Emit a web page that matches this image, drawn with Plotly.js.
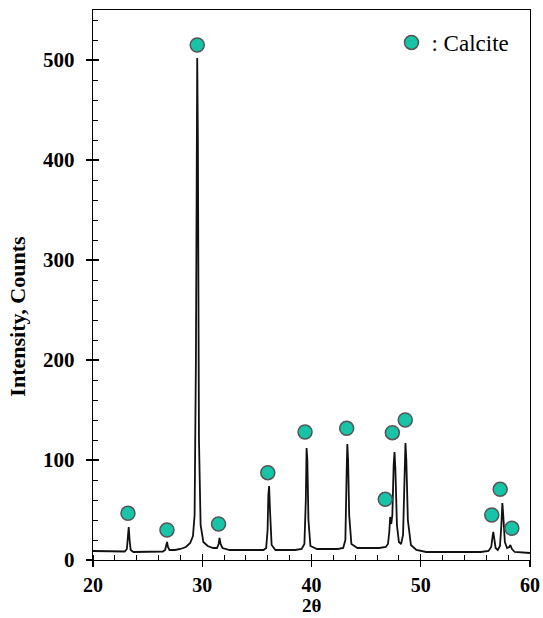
<!DOCTYPE html>
<html>
<head>
<meta charset="utf-8">
<script src="https://cdn.plot.ly/plotly-3.0.1.min.js"></script>
<style>html,body{margin:0;padding:0;background:#fff;}#chart{width:543px;height:618px;}</style>
</head>
<body>
<div id="chart"></div>
<script>
// XRD pattern (2θ, counts)
var twoTheta = [20, 21, 22, 22.9, 23.1, 23.2, 23.27, 23.35, 23.45, 23.7, 24.5, 25.5, 26.4, 26.6, 26.72, 26.78, 26.86, 27.0, 27.5, 28.0, 28.5, 28.9, 29.15, 29.3, 29.42, 29.5, 29.54, 29.6, 29.7, 29.85, 30.1, 30.5, 31.0, 31.35, 31.5, 31.58, 31.68, 31.85, 32.5, 33.5, 34.5, 35.6, 35.85, 35.98, 36.05, 36.12, 36.2, 36.35, 36.7, 37.5, 38.5, 39.1, 39.35, 39.48, 39.55, 39.62, 39.72, 39.9, 40.5, 41.5, 42.4, 42.9, 43.1, 43.22, 43.28, 43.35, 43.45, 43.65, 44.2, 45.2, 46.2, 46.8, 47.0, 47.12, 47.2, 47.3, 47.4, 47.52, 47.6, 47.68, 47.82, 48.0, 48.2, 48.38, 48.52, 48.6, 48.68, 48.82, 49.1, 49.6, 50.5, 52, 54, 55.5, 56.2, 56.45, 56.58, 56.64, 56.72, 56.85, 57.05, 57.25, 57.38, 57.47, 57.55, 57.7, 57.9, 58.1, 58.2, 58.35, 58.6, 59.2, 60];
var counts = [9, 9, 8.5, 8.5, 11, 22, 33, 20, 10, 8, 8, 8, 8.5, 10, 15, 18, 13, 10, 10, 11, 13, 17, 24, 45, 200, 480, 502, 420, 120, 35, 18, 14, 12, 12, 16, 22, 16, 12, 10, 10, 10, 10, 12, 30, 65, 74, 50, 15, 10, 10, 10, 11, 16, 60, 112, 100, 40, 14, 11, 11, 11, 12, 20, 90, 116, 100, 45, 16, 12, 12, 12, 13, 16, 28, 43, 36, 45, 95, 108, 90, 35, 18, 16, 25, 90, 117, 100, 40, 15, 10, 8, 8, 8, 8, 9, 13, 24, 28, 22, 12, 10, 14, 35, 57, 45, 18, 12, 13, 15, 11, 8, 7.5, 7];

// Calcite markers
var calciteTheta = [23.2, 26.77, 29.54, 31.49, 36.0, 39.41, 43.22, 46.75, 47.4, 48.58, 56.5, 57.27, 58.34];
var calciteY = [46.7, 30, 515, 36, 87.3, 128, 131.7, 60.7, 127.3, 140, 45, 70.7, 31.7];

var xTickVals = [20, 30, 40, 50, 60];
var yTickVals = [0, 100, 200, 300, 400, 500];

var serif = 'Liberation Serif, Times New Roman, serif';

var traces = [
  {x: twoTheta, y: counts, type: 'scatter', mode: 'lines',
   line: {color: '#111', width: 1.8}, showlegend: false, hoverinfo: 'skip'},
  {x: calciteTheta, y: calciteY, type: 'scatter', mode: 'markers', name: ': Calcite',
   marker: {color: '#17C4A8', size: 14, line: {color: '#555', width: 1.5}},
   cliponaxis: false, showlegend: true},
  {x: [20], y: [0], xaxis: 'x2', yaxis: 'y2', type: 'scatter', mode: 'markers',
   marker: {opacity: 0}, showlegend: false, hoverinfo: 'skip'}
];

var layout = {
  width: 543, height: 618,
  margin: {l: 93, r: 13, t: 10, b: 58},
  paper_bgcolor: '#fff', plot_bgcolor: '#fff',
  font: {family: serif, color: '#000'},
  showlegend: true,
  legend: {x: 0.683, y: 0.98, xanchor: 'left', yanchor: 'top',
           bgcolor: 'rgba(0,0,0,0)', font: {family: serif, size: 23, color: '#000'},
           itemwidth: 30},
  xaxis: {
    range: [20, 60], tickvals: xTickVals, ticktext: xTickVals.map(String),
    ticks: 'outside', ticklen: 6, tickwidth: 1.2, tickcolor: '#000',
    showline: true, linecolor: '#000', linewidth: 1.3, mirror: true,
    showgrid: false, zeroline: false,
    tickfont: {family: serif, size: 20, color: '#000', weight: 'bold'},
    ticklabelstandoff: 1,
    minor: {dtick: 2, tick0: 20, ticks: 'inside', ticklen: 5, tickwidth: 1, tickcolor: '#000', showgrid: false}
  },
  yaxis: {
    range: [0, 550], tickvals: yTickVals, ticktext: yTickVals.map(String),
    ticks: 'outside', ticklen: 6, tickwidth: 1.2, tickcolor: '#000',
    showline: true, linecolor: '#000', linewidth: 1.3, mirror: true,
    showgrid: false, zeroline: false,
    tickfont: {family: serif, size: 21, color: '#000', weight: 'bold'},
    ticklabelstandoff: 7,
    minor: {dtick: 20, tick0: 0, ticks: 'inside', ticklen: 5, tickwidth: 1, tickcolor: '#000', showgrid: false}
  },
  xaxis2: {overlaying: 'x', anchor: 'y', range: [20, 60], tickvals: xTickVals,
    ticks: 'inside', ticklen: 6, tickwidth: 1.2, tickcolor: '#000',
    showticklabels: false, showgrid: false, zeroline: false, showline: false, side: 'bottom'},
  yaxis2: {overlaying: 'y', anchor: 'x', range: [0, 550], tickvals: yTickVals,
    ticks: 'inside', ticklen: 6, tickwidth: 1.2, tickcolor: '#000',
    showticklabels: false, showgrid: false, zeroline: false, showline: false, side: 'left'},
  annotations: [
    {text: '<b>Intensity, Counts</b>', xref: 'paper', yref: 'paper', x: -0.172, y: 0.444,
     xanchor: 'center', yanchor: 'middle', textangle: -90, showarrow: false,
     font: {family: serif, size: 22, color: '#000'}},
    {text: '<b>2θ</b>', xref: 'paper', yref: 'paper', x: 0.5, y: -0.0836,
     xanchor: 'center', yanchor: 'middle', showarrow: false,
     font: {family: serif, size: 19, color: '#000'}}
  ]
};

Plotly.newPlot('chart', traces, layout, {displayModeBar: false, staticPlot: true});
</script>
</body>
</html>
